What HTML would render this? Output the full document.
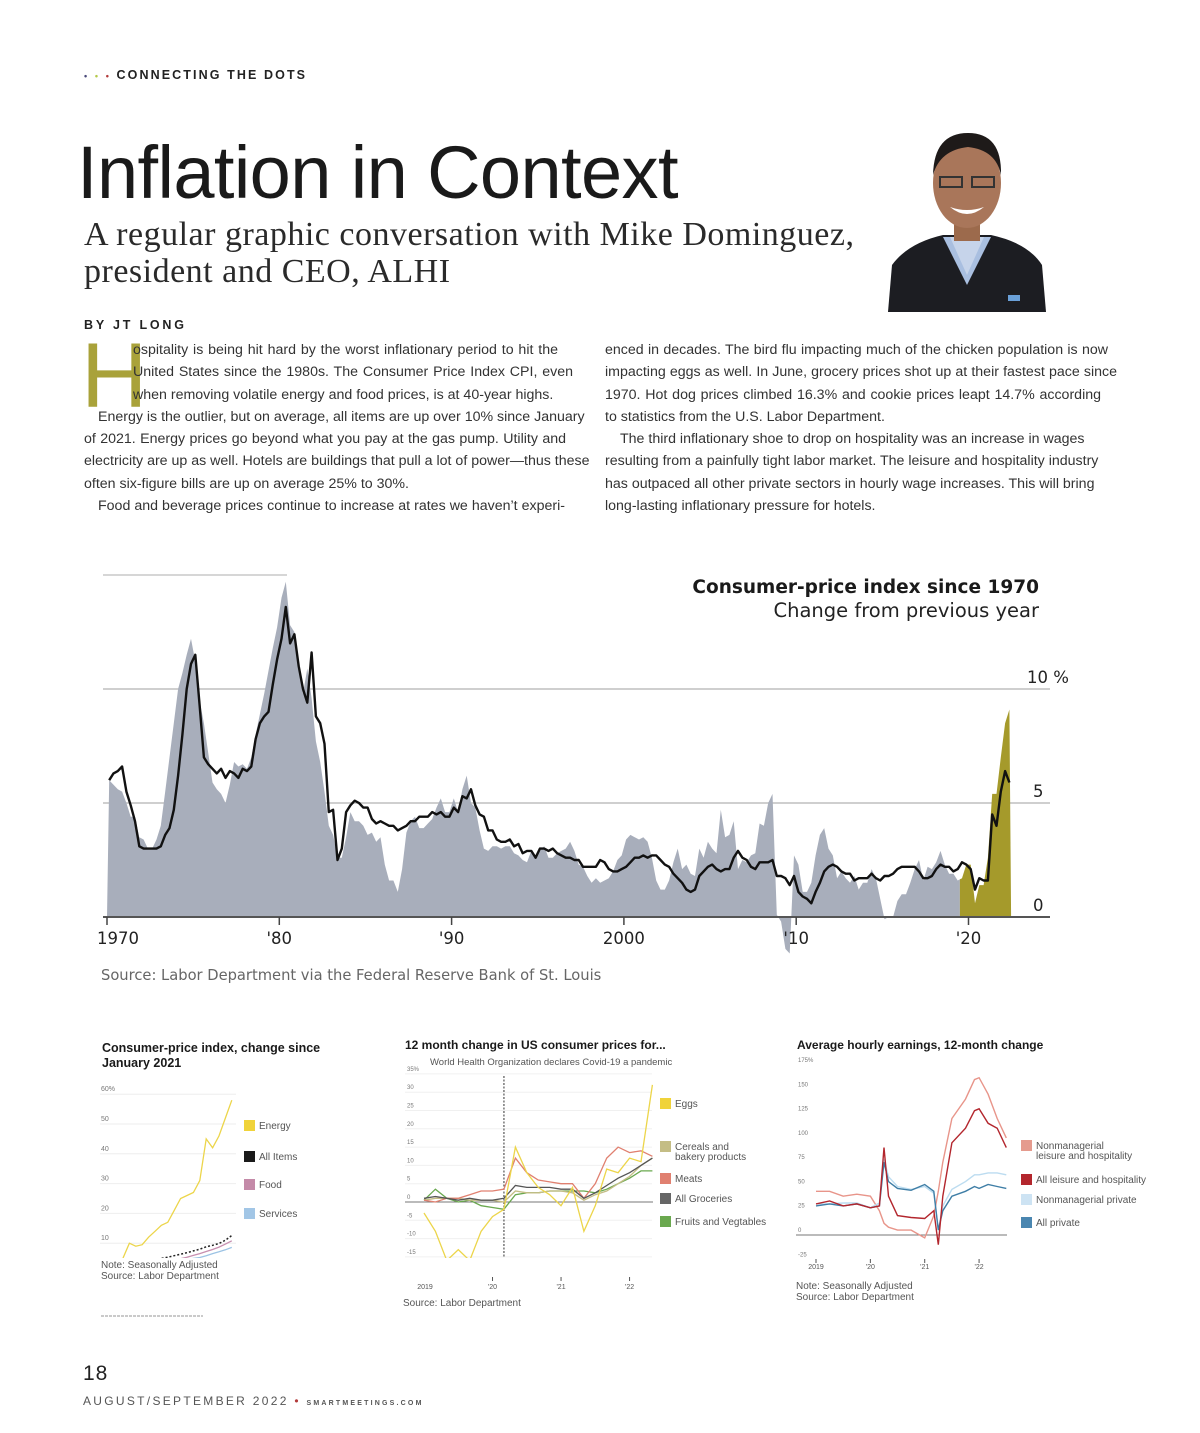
<!DOCTYPE html>
<html><head><meta charset="utf-8">
<style>
body{margin:0;background:#fff;}
#page{position:relative;width:1200px;height:1433px;overflow:hidden;background:#fff;font-family:"Liberation Sans",sans-serif;color:#222;}
.abs{position:absolute;white-space:nowrap;}
.ln{position:absolute;font-size:14.2px;color:#333;height:22px;line-height:22px;text-align:justify;text-align-last:justify;white-space:nowrap;}
.ln.last{text-align-last:left;}
svg text{font-family:"Liberation Sans","DejaVu Sans",sans-serif;}
svg text.dv{font-family:"DejaVu Sans",sans-serif;}
</style></head><body>
<div id="page">
  <div class="abs" style="left:84px;top:68px;font-size:12.5px;font-weight:bold;letter-spacing:2.1px;color:#222;">
    <span style="color:#4a4a7a;font-size:9px">•</span> <span style="color:#b5c94a;font-size:9px">•</span> <span style="color:#b23a3a;font-size:9px">•</span> CONNECTING THE DOTS</div>
  <div class="abs" style="left:77px;top:130px;font-size:74px;letter-spacing:-0.6px;color:#1a1a1a;">Inflation in Context</div>
  <div class="abs" style="left:84px;top:216px;font-family:'Liberation Serif',serif;font-size:34px;letter-spacing:0.5px;line-height:37px;color:#2a2a2a;">A regular graphic conversation with Mike Dominguez,<br>president and CEO, ALHI</div>
  <svg class="abs" style="left:888px;top:125px" width="158" height="187" viewBox="0 0 158 187">
    <rect width="158" height="187" fill="#fff"/>
    <path d="M0 187 L4 140 Q20 118 55 110 L103 110 Q140 118 154 140 L158 187Z" fill="#1c1d22"/>
    <path d="M55 112 L79 160 L103 112 Z" fill="#a9bfe0"/>
    <path d="M62 112 L79 150 L96 112Z" fill="#c6d4ea"/>
    <rect x="66" y="90" width="26" height="26" fill="#9c6a4c"/>
    <ellipse cx="79" cy="58" rx="34" ry="45" fill="#a9765a"/>
    <path d="M45 50 Q46 8 80 8 Q114 8 113 50 Q108 25 80 22 Q52 25 45 50Z" fill="#1e1a19"/>
    <path d="M62 82 Q79 96 96 82 Q79 88 62 82Z" fill="#fff"/>
    <rect x="52" y="52" width="22" height="10" fill="none" stroke="#333" stroke-width="2"/>
    <rect x="84" y="52" width="22" height="10" fill="none" stroke="#333" stroke-width="2"/>
    <rect x="120" y="170" width="12" height="6" fill="#6aa0d8"/>
  </svg>
  <div class="abs" style="left:84px;top:318px;font-size:12.5px;font-weight:bold;letter-spacing:2.8px;color:#222;">BY JT LONG</div>
  <div class="abs" style="left:81px;top:330px;font-size:92px;line-height:92px;color:#a9a23a;">H</div>
  <div>
    <div class="ln" style="left:133px;top:339px;width:425px">ospitality is being hit hard by the worst inflationary period to hit the</div>
    <div class="ln" style="left:133px;top:361px;width:440px">United States since the 1980s. The Consumer Price Index CPI, even</div>
    <div class="ln last" style="left:133px;top:384px;width:440px">when removing volatile energy and food prices, is at 40-year highs.</div>
    <div class="ln" style="left:98px;top:406px;width:484px">Energy is the outlier, but on average, all items are up over 10% since January</div>
    <div class="ln" style="left:84px;top:428px;width:482px">of 2021. Energy prices go beyond what you pay at the gas pump. Utility and</div>
    <div class="ln" style="left:84px;top:450px;width:505px">electricity are up as well. Hotels are buildings that pull a lot of power—thus these</div>
    <div class="ln last" style="left:84px;top:473px;width:480px">often six-figure bills are up on average 25% to 30%.</div>
    <div class="ln" style="left:98px;top:495px;width:467px">Food and beverage prices continue to increase at rates we haven’t experi-</div>
  </div>
  <div>
    <div class="ln" style="left:605px;top:339px;width:503px">enced in decades. The bird flu impacting much of the chicken population is now</div>
    <div class="ln" style="left:605px;top:361px;width:512px">impacting eggs as well. In June, grocery prices shot up at their fastest pace since</div>
    <div class="ln" style="left:605px;top:384px;width:496px">1970. Hot dog prices climbed 16.3% and cookie prices leapt 14.7% according</div>
    <div class="ln last" style="left:605px;top:406px;width:480px">to statistics from the U.S. Labor Department.</div>
    <div class="ln" style="left:620px;top:428px;width:462px">The third inflationary shoe to drop on hospitality was an increase in wages</div>
    <div class="ln" style="left:605px;top:450px;width:489px">resulting from a painfully tight labor market. The leisure and hospitality industry</div>
    <div class="ln" style="left:605px;top:473px;width:487px">has outpaced all other private sectors in hourly wage increases. This will bring</div>
    <div class="ln last" style="left:605px;top:495px;width:480px">long-lasting inflationary pressure for hotels.</div>
  </div>

  <svg id="charts" class="abs" style="left:0;top:0" width="1200" height="1433"></svg>

  <div class="abs" style="left:83px;top:1362px;font-size:21px;letter-spacing:1px;color:#222;">18</div>
  <div class="abs" style="left:83px;top:1394px;font-size:12px;letter-spacing:2.3px;color:#555;">AUGUST/SEPTEMBER 2022 <span style="color:#b23a3a">•</span> <span style="font-size:7px;letter-spacing:2.2px;font-weight:bold;">SMARTMEETINGS.COM</span></div>
</div>
<script>
// ===== Main chart data (quarterly, from 1970 Q1) =====
const mainStartYear = 1970;
const headlineCPI = [
6.0,5.8,5.6,5.5, 5.0,4.4,4.4,3.5, 3.4,3.0,3.0,3.4, 4.0,5.5,7.0,8.5, 10.0,10.7,11.5,12.2, 11.2,9.5,8.5,7.2,
5.9,5.6,5.4,5.0, 5.8,6.8,6.6,6.7, 6.5,7.0,8.0,8.9, 9.8,10.8,11.8,12.7, 14.0,14.7,12.8,12.5, 11.0,9.8,10.9,9.6,
7.7,6.8,5.5,4.0, 3.6,2.6,2.6,3.5, 4.6,4.2,4.2,4.0, 3.6,3.7,3.3,3.5, 2.3,1.6,1.6,1.1, 2.1,3.7,4.2,4.4,
3.9,3.9,4.1,4.3, 4.8,5.2,4.6,4.6, 5.2,4.6,5.6,6.2, 5.0,4.8,3.8,3.0, 2.9,3.1,3.1,3.0, 3.1,3.1,2.8,2.7,
2.5,2.4,2.9,2.6, 2.9,3.1,2.6,2.6, 2.8,2.9,3.0,3.3, 2.9,2.3,2.2,1.8, 1.5,1.7,1.5,1.6, 1.7,2.0,2.5,2.7,
3.4,3.6,3.5,3.4, 3.5,3.3,2.6,1.6, 1.2,1.2,1.6,2.4, 3.0,2.1,2.3,1.9, 1.8,3.0,2.6,3.3, 3.0,2.8,4.7,3.5,
3.6,4.2,2.1,2.5, 2.4,2.7,2.8,4.1, 4.0,5.0,5.4,0.1, -0.2,-1.4,-1.6,2.7, 2.3,1.1,1.1,1.5, 2.7,3.6,3.9,3.0,
2.7,1.7,2.0,1.7, 1.5,1.8,1.2,1.5, 1.5,2.1,1.7,0.8, -0.1,0.0,0.0,0.7, 1.0,1.0,1.5,2.1, 2.5,1.6,2.2,2.1,
2.4,2.9,2.3,1.9, 1.9,1.6,1.7,2.3, 2.3,0.6,1.4,1.4, 2.6,5.4,5.4,7.0, 8.5,9.1];
const coreCPI = [
6.0,6.3,6.4,6.6, 5.5,4.9,4.2,3.1, 3.0,3.0,3.0,3.0, 3.1,3.6,3.9,4.7, 6.2,8.0,10.0,11.1, 11.5,9.3,7.0,6.7,
6.5,6.3,6.5,6.1, 6.4,6.3,6.1,6.5, 6.4,6.6,7.8,8.5, 8.8,9.0,10.2,11.3, 12.2,13.6,12.0,12.4, 11.0,10.0,9.4,11.6,
8.8,8.5,7.6,4.6, 4.7,2.5,3.0,4.6, 4.9,5.1,5.0,4.8, 4.8,4.3,4.1,4.2, 4.1,4.0,4.0,3.8, 3.9,4.0,4.2,4.2,
4.4,4.4,4.4,4.6, 4.5,4.6,4.4,4.4, 4.8,4.6,5.3,5.2, 5.6,4.9,4.5,4.4, 3.8,3.8,3.4,3.3, 3.3,3.4,3.1,3.2,
2.8,2.9,2.9,2.6, 3.0,3.0,2.9,3.0, 2.8,2.7,2.6,2.6, 2.5,2.5,2.2,2.2, 2.2,2.2,2.5,2.4, 2.1,2.0,2.0,2.1,
2.2,2.4,2.6,2.6, 2.7,2.6,2.7,2.7, 2.5,2.3,2.2,1.9, 1.7,1.5,1.2,1.1, 1.2,1.8,2.0,2.2, 2.3,2.1,2.0,2.1,
2.1,2.6,2.9,2.6, 2.5,2.2,2.1,2.4, 2.4,2.4,2.5,1.8, 1.8,1.7,1.4,1.8, 1.1,0.9,0.8,0.6, 1.1,1.5,2.0,2.2,
2.3,2.2,2.0,1.9, 1.9,1.6,1.7,1.7, 1.7,1.9,1.7,1.6, 1.8,1.8,1.9,2.1, 2.2,2.2,2.2,2.2, 2.0,1.7,1.7,1.8,
2.1,2.3,2.2,2.2, 2.0,2.1,2.4,2.3, 2.1,1.2,1.7,1.6, 1.6,4.5,4.0,5.5, 6.4,5.9];
const mainYTicks = [0,5,10];
const mainYTickLabels = ["0","5","10 %"];
const mainXTicks = [1970,1980,1990,2000,2010,2020];
const mainXTickLabels = ["1970","'80","'90","2000","'10","'20"];
const highlightStartYear = 2019.5;

// ===== Small chart 1 (months since Jan 2021) =====
const c1Energy = [5,10,9,9.5,12,14,16,17,21,25,26,27,31,45,42,46,52,58];
const c1All = [1.4,2,2.6,3.2,3.8,4.4,4.9,5.3,5.8,6.3,6.8,7.4,8,8.8,9.3,9.9,11,12.6];
const c1Food = [1,1.3,1.6,2,2.5,3,3.4,3.9,4.3,4.8,5.3,5.9,6.5,7.2,7.9,8.7,9.7,10.8];
const c1Services = [0.5,0.9,1.3,1.7,2.1,2.5,2.9,3.3,3.7,4.1,4.5,4.9,5.2,5.8,6.5,7.1,7.8,8.6];
const c1YTicks = [10,20,30,40,50,60];
const c1YLabels = ["10","20","30","40","50","60%"];

// ===== Small chart 2 (months since Jan 2019) =====
const c2Months = [0,2,4,6,8,10,12,14,16,18,20,22,24,26,28,30,32,34,36,38,40];
const c2Eggs = [-3,-8,-16,-13,-16,-8,-4,-2,15,8,4,2,-1,4,-8,-1,9,8,12,11,32];
const c2Meats = [0.5,0,1,1,2,3,3,3.5,12,8,6,5.5,5,5,1,5,12,15,13.5,14,12.5];
const c2Cereals = [0.5,1,1,1,0.5,0.5,0.5,0,3,2.5,2.5,3,3,2.5,0.5,2,3,5,7,10,12];
const c2Groceries = [1,1.5,1,0.5,1,0.5,0.5,1,4.5,4,4,4,3.5,3.5,1,2.5,4.5,6.5,8,10,12];
const c2Fruits = [0.5,3.5,1,0,0.5,-1,-1.5,-2,2,2.5,2.5,3,3,3,3,2.5,3.5,5,6.5,8.5,8.5];
const c2YTicks = [-15,-10,-5,0,5,10,15,20,25,30,35];
const c2YLabels = ["-15","-10","-5","0","5","10","15","20","25","30","35%"];
const c2XTicks = [0,12,24,36];
const c2XLabels = ["2019","'20","'21","'22"];
const c2CovidMonth = 14;

// ===== Small chart 3 (months since Jan 2019) =====
const c3Months = [0,3,6,9,12,14,15,16,18,21,24,26,27,28,30,33,35,36,38,40,42];
const c3NonMgrLH = [45,45,40,42,40,25,12,8,5,5,-3,20,45,75,120,140,160,162,145,120,100];
const c3AllLH = [32,35,30,32,28,30,90,40,20,18,17,25,-10,40,95,110,128,130,115,110,90];
const c3NonMgrPriv = [32,32,33,33,28,33,78,60,50,47,50,43,5,30,47,55,62,62,64,64,62];
const c3AllPriv = [30,32,30,32,28,30,75,55,48,46,52,45,5,25,40,45,50,48,52,50,48];
const c3YTicks = [-25,0,25,50,75,100,125,150,175];
const c3YLabels = ["-25","0","25","50","75","100","125","150","175%"];
const c3XTicks = [0,12,24,36];
const c3XLabels = ["2019","'20","'21","'22"];

const NS = "http://www.w3.org/2000/svg";
const svg = document.getElementById('charts');
function mk(tag, attrs, parent){
  const e = document.createElementNS(NS, tag);
  for (const k in attrs) e.setAttribute(k, attrs[k]);
  (parent||svg).appendChild(e);
  return e;
}
function txt(x,y,s,size,fill,extra,parent){
  const t = mk('text', Object.assign({x:x,y:y,'font-size':size,fill:fill}, extra||{}), parent);
  t.textContent = s;
  return t;
}

// ---------- Main chart ----------
const mx = y => 107 + (y - 1970) * 17.23;
const my = v => 917 - v * 22.8;
const tOf = i => mainStartYear + i/4 + 0.125;

const gMain = mk('g', {});


let gl = mk('line', {x1:103,x2:287,y1:my(15),y2:my(15),stroke:'#d6d6d6','stroke-width':2}, gMain);


mainYTicks.forEach((v,i)=>{
  if (v>0){
    const l = mk('line', {x1:103,x2:1050,y1:my(v),y2:my(v),stroke:'#cfcfcf','stroke-width':2}, gMain);
    
    
  }
  const t = txt(v===10?1027:1033, my(v)-6, mainYTickLabels[i], 16.5, '#222', {'class':'dv'}, gMain);
  
  
});
function areaPath(arr){
  let d = 'M'+mx(tOf(0)-0.125)+','+my(0);
  arr.forEach((v,i)=>{ d += ' L'+mx(tOf(i)).toFixed(1)+','+my(v).toFixed(1); });
  d += ' L'+mx(tOf(arr.length-1)+0.1).toFixed(1)+','+my(0)+' Z';
  return d;
}
const defs = mk('defs',{});
const cpL = mk('clipPath',{id:'clipGray'},defs); mk('rect',{x:0,y:0,width:mx(highlightStartYear),height:1433},cpL);
const cpR = mk('clipPath',{id:'clipGold'},defs); mk('rect',{x:mx(highlightStartYear),y:0,width:400,height:1433},cpR);
const ga = mk('path',{d:areaPath(headlineCPI),fill:'#a8aebb','clip-path':'url(#clipGray)'},gMain);


const go = mk('path',{d:areaPath(headlineCPI),fill:'#a59a2b','clip-path':'url(#clipGold)'},gMain);


let dc = '';
coreCPI.forEach((v,i)=>{ dc += (i?' L':'M')+mx(tOf(i)).toFixed(1)+','+my(v).toFixed(1); });
const cl = mk('path',{d:dc,fill:'none',stroke:'#111','stroke-width':2.4,'stroke-linejoin':'round'},gMain);


const base = mk('line',{x1:103,x2:1050,y1:my(0),y2:my(0),stroke:'#555','stroke-width':2},gMain);


mainXTicks.forEach((y,i)=>{
  mk('line',{x1:mx(y),x2:mx(y),y1:my(0),y2:my(0)+8,stroke:'#444','stroke-width':1.5},gMain);
  const t = txt(mx(y)+(i===0?11:0), 944, mainXTickLabels[i], 16.5, '#222', {'text-anchor':'middle','class':'dv'}, gMain);
  
  
});
let tt = txt(1039, 593, 'Consumer-price index since 1970', 18.5, '#1a1a1a', {'text-anchor':'end','font-weight':'bold','class':'dv'}, gMain);


tt = txt(1039, 617, 'Change from previous year', 19.5, '#222', {'text-anchor':'end','class':'dv'}, gMain);


tt = txt(101, 980, 'Source: Labor Department via the Federal Reserve Bank of St. Louis', 14.7, '#666', {'class':'dv'}, gMain);



function linePath(xs, ys, fx, fy){
  let d='';
  ys.forEach((v,i)=>{ d += (i?' L':'M')+fx(xs[i]).toFixed(1)+','+fy(v).toFixed(1); });
  return d;
}
function legendBox(g, x, y, color, lines){
  mk('rect',{x:x,y:y-9,width:11,height:11,fill:color},g);
  lines.forEach((s,i)=>{ txt(x+15, y+i*10, s, 10, '#555', {}, g); });
}

// ---------- Small chart 1 ----------
const c1x = m => 123 + m * 6.4;
const c1y = v => 1273 - v * 2.98;
const g1 = mk('g',{});


txt(102,1052,'Consumer-price index, change since',12.5,'#1a1a1a',{'font-weight':'bold'},g1);
txt(102,1067,'January 2021',12.5,'#1a1a1a',{'font-weight':'bold'},g1);
c1YTicks.forEach((v,i)=>{
  mk('line',{x1:100,x2:236,y1:c1y(v),y2:c1y(v),stroke:'#eee','stroke-width':1},g1);
  txt(101,c1y(v)-3,c1YLabels[i],7,'#777',{},g1);
});
const cp1 = mk('clipPath',{id:'clip1'},defs); mk('rect',{x:100,y:1080,width:140,height:178},cp1);
const idx1 = c1Energy.map((_,i)=>i);
[[c1Services,'#9cc3e4','services'],[c1Food,'#c78fb0','food'],[c1All,'#222','all-items'],[c1Energy,'#ecd54a','energy']].forEach(s=>{
  const p = mk('path',{d:linePath(idx1,s[0],c1x,c1y),fill:'none',stroke:s[1],'stroke-width':s[2]==='all-items'?1.5:1.3,'stroke-dasharray':s[2]==='all-items'?'2,2':'none','clip-path':'url(#clip1)'},g1);
  
  
});
legendBox(g1,244,1129,'#f0d33a',['Energy']);
legendBox(g1,244,1160,'#1a1a1a',['All Items']);
legendBox(g1,244,1188,'#c48aa8',['Food']);
legendBox(g1,244,1217,'#a2c6e6',['Services']);
txt(101,1268,'Note: Seasonally Adjusted',10,'#555',{},g1);
txt(101,1279,'Source: Labor Department',10,'#555',{},g1);
mk('line',{x1:101,x2:203,y1:1316,y2:1316,stroke:'#aaa','stroke-width':1.2,'stroke-dasharray':'3,1'},g1);

// ---------- Small chart 2 ----------
const c2x = m => 424 + m * 5.71;
const c2y = v => 1202 - v * 3.66;
const g2 = mk('g',{});


txt(405,1049,'12 month change in US consumer prices for...',12,'#1a1a1a',{'font-weight':'bold'},g2);
txt(430,1065,'World Health Organization declares Covid-19 a pandemic',9.5,'#555',{},g2);
c2YTicks.forEach((v,i)=>{
  if(v!==0) mk('line',{x1:405,x2:652,y1:c2y(v),y2:c2y(v),stroke:'#f0f0f0','stroke-width':1},g2);
  txt(407,c2y(v)-3,c2YLabels[i],6,'#777',{},g2);
});
mk('line',{x1:405,x2:653,y1:c2y(0),y2:c2y(0),stroke:'#777','stroke-width':1},g2);
const cv = mk('line',{x1:c2x(c2CovidMonth),x2:c2x(c2CovidMonth),y1:1076,y2:1257,stroke:'#555','stroke-width':1.2,'stroke-dasharray':'2,1.5'},g2);


const cp2 = mk('clipPath',{id:'clip2'},defs); mk('rect',{x:400,y:1070,width:260,height:188},cp2);
[[c2Fruits,'#6aa84f','fruits-vegetables'],[c2Cereals,'#c4bd85','cereals-bakery'],[c2Meats,'#e08070','meats'],[c2Groceries,'#555','all-groceries'],[c2Eggs,'#ecd54a','eggs']].forEach(s=>{
  const p = mk('path',{d:linePath(c2Months,s[0],c2x,c2y),fill:'none',stroke:s[1],'stroke-width':1.3,'clip-path':'url(#clip2)'},g2);
  
  
});
c2XTicks.forEach((m,i)=>{
  if(i>0) mk('line',{x1:c2x(m),x2:c2x(m),y1:1277,y2:1281,stroke:'#555'},g2);
  txt(c2x(m)+(i===0?1:0),1289,c2XLabels[i],7,'#555',{'text-anchor':'middle'},g2);
});
legendBox(g2,660,1107,'#f0d33a',['Eggs']);
legendBox(g2,660,1150,'#c4bd85',['Cereals and','bakery products']);
legendBox(g2,660,1182,'#e08070',['Meats']);
legendBox(g2,660,1202,'#666',['All Groceries']);
legendBox(g2,660,1225,'#6aa84f',['Fruits and Vegtables']);
txt(403,1306,'Source: Labor Department',10,'#555',{},g2);

// ---------- Small chart 3 ----------
const c3x = m => 816 + m * 4.53;
const c3y = v => 1235 - v * 0.971;
const g3 = mk('g',{});


txt(797,1049,'Average hourly earnings, 12-month change',12,'#1a1a1a',{'font-weight':'bold'},g3);
c3YTicks.forEach((v,i)=>{
  txt(798,c3y(v)-3,c3YLabels[i],6,'#777',{},g3);
});
mk('line',{x1:796,x2:1007,y1:c3y(0),y2:c3y(0),stroke:'#777','stroke-width':1},g3);
[[c3NonMgrLH,'#e8958a','nonmanagerial-leisure-hospitality'],[c3NonMgrPriv,'#bcdcf0','nonmanagerial-private'],[c3AllPriv,'#3f7ea6','all-private'],[c3AllLH,'#b3262d','all-leisure-hospitality']].forEach(s=>{
  const p = mk('path',{d:linePath(c3Months,s[0],c3x,c3y),fill:'none',stroke:s[1],'stroke-width':1.4},g3);
  
  
});
c3XTicks.forEach((m,i)=>{
  mk('line',{x1:c3x(m),x2:c3x(m),y1:1259,y2:1263,stroke:'#555'},g3);
  txt(c3x(m),1269,c3XLabels[i],7,'#555',{'text-anchor':'middle'},g3);
});
legendBox(g3,1021,1149,'#e59b8e',['Nonmanagerial','leisure and hospitality']);
legendBox(g3,1021,1183,'#b3262d',['All leisure and hospitality']);
legendBox(g3,1021,1203,'#cde3f3',['Nonmanagerial private']);
legendBox(g3,1021,1226,'#4a86b0',['All private']);
txt(796,1289,'Note: Seasonally Adjusted',10,'#555',{},g3);
txt(796,1300,'Source: Labor Department',10,'#555',{},g3);
</script>
</body></html>
